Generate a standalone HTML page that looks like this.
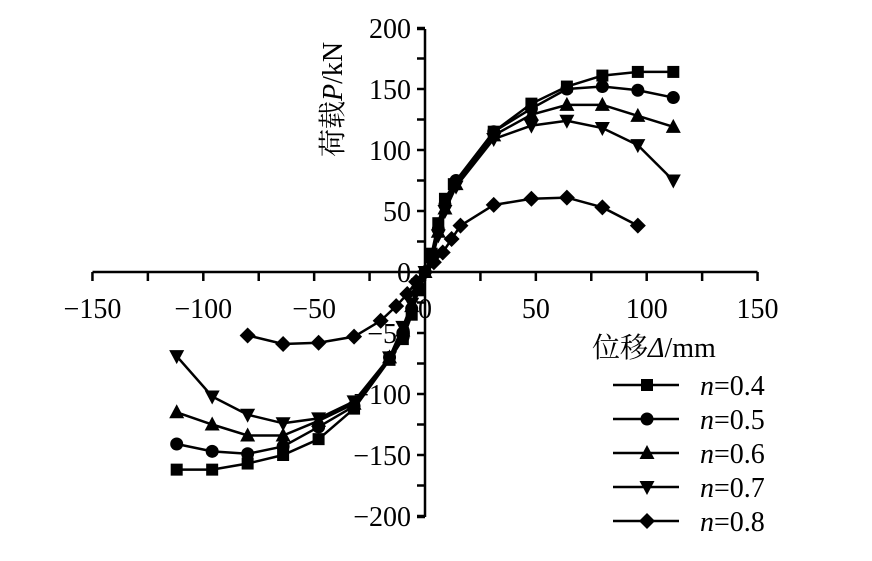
<!DOCTYPE html>
<html><head><meta charset="utf-8"><style>
body{margin:0;background:#fff}
svg{display:block}
text{font-family:"Liberation Serif","Noto Serif CJK SC",serif;fill:#000}
</style></head><body>
<svg id="s" width="872" height="561" viewBox="0 0 872 561" xmlns="http://www.w3.org/2000/svg">
<g stroke="#000" stroke-width="2.5" fill="none">
<line x1="92.5" y1="272" x2="757.5" y2="272"/>
<line x1="425" y1="29" x2="425" y2="517"/>
<line x1="417" y1="29" x2="425" y2="29"/>
<line x1="417" y1="517" x2="425" y2="517"/>
</g>
<g id="ticks" stroke="#000" stroke-width="2.5"></g>
<g id="labels" font-size="28"></g>
<g id="series"></g>
<text x="592" y="357" font-size="28">位移<tspan font-style="italic">Δ</tspan>/mm</text>
<text transform="translate(342,157) rotate(-90)" font-size="28">荷载<tspan font-style="italic">P</tspan>/kN</text>
<g id="legend" font-size="28"></g>
</svg>
<script>
const NS="http://www.w3.org/2000/svg";
function el(t,a,p){const e=document.createElementNS(NS,t);for(const k in a)e.setAttribute(k,a[k]);p.appendChild(e);return e;}
const X=v=>425+v*2.217, Y=v=>272-v*1.22;
const tk=document.getElementById('ticks'),lb=document.getElementById('labels');
for(let v=-150;v<=150;v+=25){el('line',{x1:X(v),y1:272,x2:X(v),y2:281},tk);
 if(v%50==0){const t=el('text',{x:X(v),y:318,'text-anchor':'middle'},lb);t.textContent=(v<0?'\u2212':'')+Math.abs(v);}}
for(let v=-200;v<=200;v+=25){el('line',{x1:417,y1:Y(v),x2:425,y2:Y(v)},tk);
 if(v%50==0){const t=el('text',{x:411,y:Y(v)+10,'text-anchor':'end'},lb);t.textContent=(v<0?'\u2212':'')+Math.abs(v);}}
const data=[
 ['s',[[-112,-162],[-96,-162],[-80,-157],[-64,-150],[-48,-137],[-32,-112],[-16,-72],[-10,-55],[-6,-35],[-3,-15],[0,0],[3,15],[6,40],[9,60],[13,72],[31,115],[48,138],[64,152],[80,161],[96,164],[112,164]]],
 ['c',[[-112,-141],[-96,-147],[-80,-149],[-64,-143],[-48,-127],[-32,-110],[-16,-70],[-10,-50],[-6,-30],[-3,-12],[0,0],[3,12],[6,35],[9,55],[14,75],[31,115],[48,134],[64,150],[80,152],[96,149],[112,143]]],
 ['t',[[-112,-115],[-96,-125],[-80,-134],[-64,-134],[-48,-122],[-32,-108],[-16,-70],[-10,-48],[-6,-28],[-3,-12],[0,0],[3,12],[6,33],[9,52],[14,72],[31,112],[48,129],[64,137],[80,137],[96,128],[112,119]]],
 ['v',[[-112,-69],[-96,-102],[-80,-117],[-64,-124],[-48,-120],[-32,-106],[-16,-70],[-10,-45],[-6,-26],[-3,-10],[0,0],[3,10],[6,30],[9,50],[14,70],[31,109],[48,120],[64,124],[80,118],[96,104],[112,75]]],
 ['d',[[-80,-52],[-64,-59],[-48,-58],[-32,-53],[-20,-40],[-13,-28],[-8,-18],[-4,-8],[0,0],[4,8],[8,16],[12,27],[16,38],[31,55],[48,60],[64,61],[80,53],[96,38]]]
];
function mk(type,x,y,p){
 if(type=='s')el('rect',{x:x-6,y:y-6,width:12,height:12},p);
 else if(type=='c')el('circle',{cx:x,cy:y,r:6.5},p);
 else if(type=='t')el('polygon',{points:`${x},${y-8} ${x+7.5},${y+6} ${x-7.5},${y+6}`},p);
 else if(type=='v')el('polygon',{points:`${x},${y+8} ${x+7.5},${y-6} ${x-7.5},${y-6}`},p);
 else el('polygon',{points:`${x},${y-8} ${x+8},${y} ${x},${y+8} ${x-8},${y}`},p);
}
const sg=document.getElementById('series');
data.forEach(([t,pts])=>{
 el('polyline',{points:pts.map(p=>X(p[0])+','+Y(p[1])).join(' '),fill:'none',stroke:'#000','stroke-width':2.5},sg);
 const g=el('g',{fill:'#000'},sg);pts.forEach(p=>mk(t,X(p[0]),Y(p[1]),g));
});
const lg=document.getElementById('legend');
const names=['0.4','0.5','0.6','0.7','0.8'],ys=[385,419,453,487,521];
data.forEach(([t],i)=>{const y=ys[i];
 el('line',{x1:613,y1:y,x2:679,y2:y,stroke:'#000','stroke-width':2.5},lg);
 const g=el('g',{fill:'#000'},lg);mk(t,647,y,g);
 const tx=el('text',{x:700,y:y+10},lg);tx.innerHTML='<tspan font-style="italic">n</tspan>=0.'+names[i].slice(2);
});
</script>
</body></html>
